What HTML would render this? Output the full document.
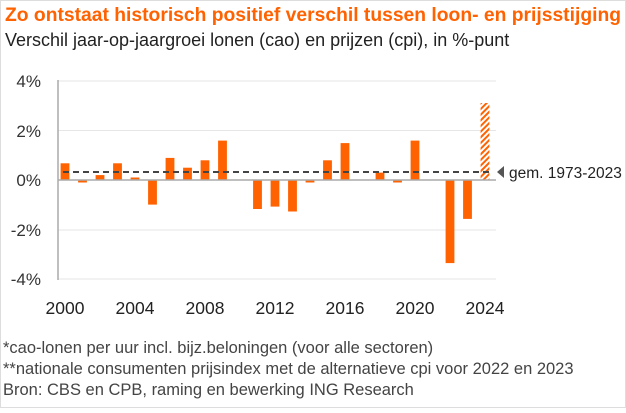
<!DOCTYPE html>
<html><head><meta charset="utf-8"><style>
html,body{margin:0;padding:0;background:#fff}
body{width:626px;height:408px;overflow:hidden;font-family:"Liberation Sans",sans-serif}
</style></head><body>
<svg width="626" height="408" viewBox="0 0 626 408" xmlns="http://www.w3.org/2000/svg" font-family="Liberation Sans, sans-serif">
<defs><pattern id="h" width="4" height="4" patternUnits="userSpaceOnUse" patternTransform="rotate(45)"><rect width="4" height="4" fill="#fff"/><rect width="2" height="4" fill="#ff6200"/></pattern></defs>
<rect x="0.5" y="0.5" width="625" height="407" fill="#fff" stroke="#ddd"/>
<text x="5" y="21" font-size="19.3" font-weight="bold" fill="#ff6200">Zo ontstaat historisch positief verschil tussen loon- en prijsstijging</text>
<text x="5" y="46" font-size="18" fill="#222">Verschil jaar-op-jaargroei lonen (cao) en prijzen (cpi), in %-punt</text>
<g stroke="#e6e6e6" stroke-width="1">
<line x1="58" x2="496" y1="81" y2="81"/><line x1="58" x2="496" y1="130.5" y2="130.5"/><line x1="58" x2="496" y1="230" y2="230"/><line x1="58" x2="496" y1="279" y2="279"/>
</g>
<line x1="58" x2="58" y1="80" y2="280" stroke="#aaa" stroke-width="1.5"/>
<g font-size="17" fill="#333" text-anchor="end">
<text x="41" y="87">4%</text><text x="41" y="137">2%</text><text x="41" y="186">0%</text><text x="41" y="236">-2%</text><text x="41" y="285">-4%</text>
</g>
<g fill="#ff6200">
<rect x="60.6" y="163.3" width="8.8" height="16.7"/>
<rect x="78.1" y="180" width="8.8" height="2.5"/>
<rect x="95.6" y="175.1" width="8.8" height="4.9"/>
<rect x="113.1" y="163.3" width="8.8" height="16.7"/>
<rect x="130.6" y="177.5" width="8.8" height="2.5"/>
<rect x="148.1" y="180" width="8.8" height="24.6"/>
<rect x="165.6" y="157.9" width="8.8" height="22.1"/>
<rect x="183.1" y="167.7" width="8.8" height="12.3"/>
<rect x="200.6" y="160.3" width="8.8" height="19.7"/>
<rect x="218.1" y="140.6" width="8.8" height="39.4"/>
<rect x="253.1" y="180" width="8.8" height="29"/>
<rect x="270.6" y="180" width="8.8" height="26.6"/>
<rect x="288.1" y="180" width="8.8" height="31.5"/>
<rect x="305.6" y="180" width="8.8" height="2.5"/>
<rect x="323.1" y="160.3" width="8.8" height="19.7"/>
<rect x="340.6" y="143.1" width="8.8" height="36.9"/>
<rect x="375.6" y="172.6" width="8.8" height="7.4"/>
<rect x="393.1" y="180" width="8.8" height="2.5"/>
<rect x="410.6" y="140.6" width="8.8" height="39.4"/>
<rect x="445.6" y="180" width="8.8" height="83.1"/>
<rect x="463.1" y="180" width="8.8" height="38.9"/>
</g>
<rect x="480.6" y="103" width="8.8" height="77" fill="url(#h)"/>
<line x1="58" x2="496" y1="180" y2="180" stroke="#aaa" stroke-width="1.5"/>
<line x1="63" x2="490" y1="172" y2="172" stroke="#444" stroke-width="2" stroke-dasharray="6,4"/>
<polygon points="497,172 504,166 504,178" fill="#555"/>
<text x="509" y="178" font-size="15.5" fill="#222">gem. 1973-2023</text>
<g font-size="17.5" fill="#222" text-anchor="middle">
<text x="65" y="314">2000</text><text x="135" y="314">2004</text><text x="205" y="314">2008</text><text x="275" y="314">2012</text><text x="345" y="314">2016</text><text x="415" y="314">2020</text><text x="485" y="314">2024</text>
</g>
<g font-size="16.5" fill="#444">
<text x="3" y="353">*cao-lonen per uur incl. bijz.beloningen (voor alle sectoren)</text>
<text x="3" y="374">**nationale consumenten prijsindex met de alternatieve cpi voor 2022 en 2023</text>
<text x="3" y="395">Bron: CBS en CPB, raming en bewerking ING Research</text>
</g>
</svg>
</body></html>
